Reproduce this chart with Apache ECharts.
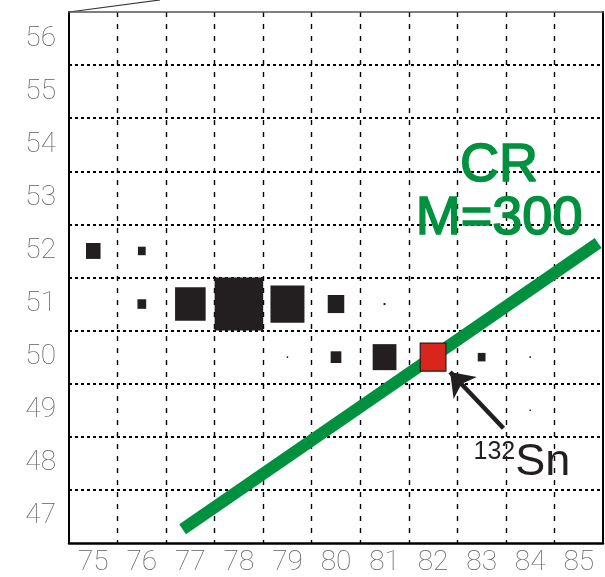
<!DOCTYPE html>
<html>
<head>
<meta charset="utf-8">
<script src="https://cdn.jsdelivr.net/npm/echarts@6/dist/echarts.min.js"></script>
<style>
  html, body { margin: 0; padding: 0; background: #fff; }
  #chart { width: 605px; height: 577px; }
</style>
</head>
<body>
<div id="chart"></div>
<script>
// Axis categories: neutron number N (x) and proton number Z (y)
const nLabels = ['75', '76', '77', '78', '79', '80', '81', '82', '83', '84', '85'];
const zLabels = ['47', '48', '49', '50', '51', '52', '53', '54', '55', '56'];

// Production squares: N, Z and edge length as a fraction of one cell
const yieldN = [75, 76, 76, 77, 78, 79, 80, 81, 79, 80, 81, 83, 84, 84];
const yieldZ = [52, 52, 51, 51, 51, 51, 51, 51, 50, 50, 50, 50, 50, 49];
const yieldSize = [0.30, 0.16, 0.18, 0.63, 1.0, 0.70, 0.34, 0.04, 0.03, 0.22, 0.49, 0.16, 0.03, 0.03];

// Doubly magic 132Sn
const snN = [82];
const snZ = [50];
const snSize = [0.53];

// CR M=300 line endpoints
const crN = [76.84, 85.4];
const crZ = [46.76, 52.15];

const INK = '#231f20';
const GREEN = '#00913f';

const chart = echarts.init(document.getElementById('chart'), null, { renderer: 'canvas' });

const squareData = yieldN.map((n, i) => [n, yieldZ[i], yieldSize[i]]);
const snData = snN.map((n, i) => [n, snZ[i], snSize[i]]);
const crData = crN.map((n, i) => [n, crZ[i]]);

function squareRenderer(fill, stroke) {
  return function (params, api) {
    const c = api.coord([api.value(0), api.value(1)]);
    const cell = api.size([1, 1]);
    const f = api.value(2);
    const w = cell[0] * f;
    const h = cell[1] * f;
    return {
      type: 'rect',
      shape: { x: c[0] - w / 2, y: c[1] - h / 2, width: w, height: h },
      style: { fill: fill, stroke: stroke, lineWidth: stroke ? 1.2 : 0 }
    };
  };
}

// Thin grey tick numerals
const tickFont = {
  fontFamily: 'Roboto, "Liberation Sans", sans-serif',
  fontWeight: 100,
  fontSize: 28,
  color: '#5e5e5e'
};

chart.setOption({
  animation: false,
  backgroundColor: '#fff',
  grid: { left: 69, top: 12, right: 2, bottom: 34, containLabel: false },
  xAxis: [
    {
      type: 'category',
      data: nLabels,
      position: 'bottom',
      boundaryGap: true,
      axisLine: { show: true, onZero: false, lineStyle: { color: '#000', width: 2.5 } },
      axisTick: { show: false },
      axisLabel: Object.assign({ margin: 6, interval: 0 }, tickFont),
      splitLine: {
        show: true, showMinLine: false, showMaxLine: false,
        lineStyle: { color: '#000', width: 1.4, type: [5, 7] }
      }
    },
    {
      type: 'value',
      position: 'top',
      min: 74.5,
      max: 85.5,
      axisLine: { show: true, onZero: false, lineStyle: { color: '#555', width: 1.5 } },
      axisTick: { show: false },
      axisLabel: { show: false },
      splitLine: { show: false }
    }
  ],
  yAxis: [
    {
      type: 'category',
      data: zLabels,
      position: 'left',
      boundaryGap: true,
      axisLine: { show: true, onZero: false, lineStyle: { color: '#000', width: 2 } },
      axisTick: { show: false },
      axisLabel: Object.assign({ margin: 13, interval: 0 }, tickFont),
      splitLine: {
        show: true, showMinLine: false, showMaxLine: false,
        lineStyle: { color: '#000', width: 2, type: [3, 3] }
      }
    },
    {
      type: 'value',
      position: 'right',
      min: 46.5,
      max: 56.5,
      axisLine: { show: true, onZero: false, lineStyle: { color: '#000', width: 2 } },
      axisTick: { show: false },
      axisLabel: { show: false },
      splitLine: { show: false }
    }
  ],
  series: [
    {
      name: 'CR M=300',
      type: 'line',
      xAxisIndex: 1,
      yAxisIndex: 1,
      data: crData,
      symbol: 'none',
      z: 2,
      silent: true,
      lineStyle: { color: GREEN, width: 12, cap: 'butt' },
      markPoint: {
        silent: true,
        symbol: 'rect',
        symbolSize: 0,
        data: [
          {
            coord: [83.36, 53.1],
            label: {
              show: true,
              position: 'inside',
              formatter: 'CR\nM=300',
              align: 'center',
              verticalAlign: 'middle',
              color: GREEN,
              fontFamily: '"Liberation Sans", Arial, sans-serif',
              fontWeight: 'normal',
              fontSize: 54,
              lineHeight: 53,
              textBorderColor: GREEN,
              textBorderWidth: 1.6
            }
          }
        ]
      }
    },
    {
      name: 'yield',
      type: 'custom',
      xAxisIndex: 1,
      yAxisIndex: 1,
      data: squareData,
      z: 3,
      silent: true,
      renderItem: squareRenderer(INK, null)
    },
    {
      name: '132Sn',
      type: 'custom',
      xAxisIndex: 1,
      yAxisIndex: 1,
      data: snData,
      z: 4,
      silent: true,
      renderItem: squareRenderer('#d9261c', INK),
      markLine: {
        silent: true,
        symbol: ['none', 'arrow'],
        symbolSize: [24, 22],
        label: { show: false },
        lineStyle: { color: INK, width: 4.5, type: 'solid' },
        emphasis: { disabled: true },
        data: [[{ coord: [83.45, 48.66] }, { coord: [82.35, 49.72] }]]
      },
      markPoint: {
        silent: true,
        symbol: 'rect',
        symbolSize: 0,
        data: [
          {
            coord: [83.83, 48.02],
            label: {
              show: true,
              position: 'inside',
              formatter: '{sup|132}{el|Sn}',
              align: 'center',
              verticalAlign: 'middle',
              rich: {
                sup: {
                  fontFamily: '"Liberation Sans Narrow", "Liberation Sans", Arial, sans-serif',
                  fontSize: 25,
                  color: INK,
                  verticalAlign: 'top',
                  lineHeight: 46
                },
                el: {
                  fontFamily: '"Liberation Sans Narrow", "Liberation Sans", Arial, sans-serif',
                  fontSize: 45,
                  color: INK,
                  lineHeight: 46
                }
              }
            }
          }
        ]
      }
    }
  ],
  graphic: [
    {
      type: 'line',
      silent: true,
      shape: { x1: 69, y1: 12, x2: 160, y2: 0 },
      style: { stroke: '#333', lineWidth: 1.2 }
    }
  ]
});
</script>
</body>
</html>
